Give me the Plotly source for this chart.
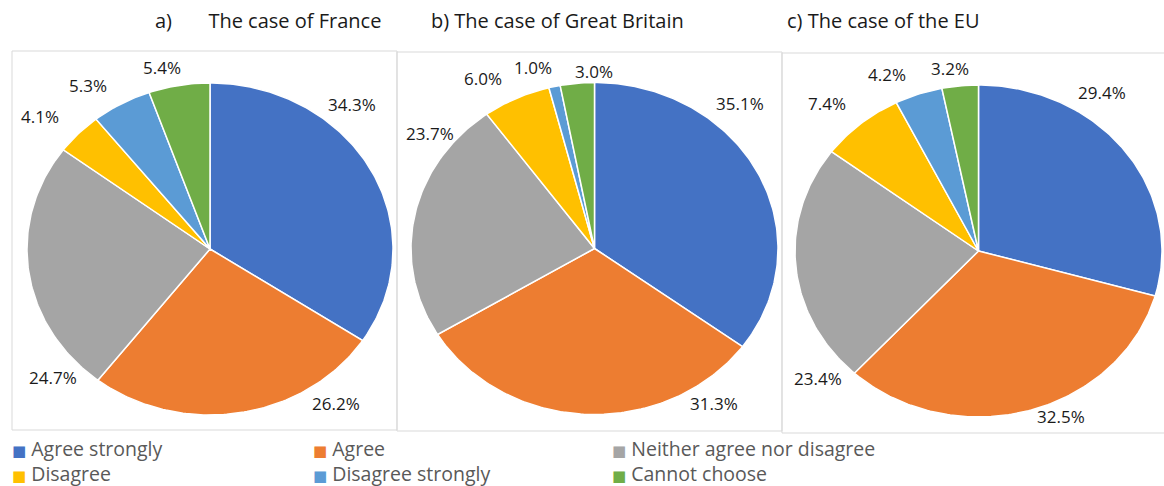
import numpy as np
import plotly.graph_objects as go

# Survey answers (percent of respondents) for each panel
categories = ["Agree strongly", "Agree", "Neither agree nor disagree",
              "Disagree", "Disagree strongly", "Cannot choose"]
france = [34.3, 26.2, 24.7, 4.1, 5.3, 5.4]
great_britain = [35.1, 31.3, 23.7, 6.0, 1.0, 3.0]
eu = [29.4, 32.5, 23.4, 7.4, 4.2, 3.2]
panel_titles = ["a)\u00a0\u00a0\u00a0\u00a0\u00a0\u00a0 The case of France",
                "b) The case of Great Britain",
                "c) The case of the EU"]

colors = ["#4472C4", "#ED7D31", "#A5A5A5", "#FFC000", "#5B9BD5", "#70AD47"]

W, H = 1164, 486
FONT = "Open Sans, Noto Sans, sans-serif"

# Panel geometry in pixels: pie centre, radii, frame, title centre, label offsets
panels = [
    dict(values=france, cx=210, cy=249, rx=183, ry=166,
         frame=(12, 51, 397, 430), title_x=268,
         label_offsets=[(142, -145), (126, 154), (-157, 128),
                        (-170, -133), (-122, -164), (-48, -182)]),
    dict(values=great_britain, cx=594.5, cy=248.5, rx=183.5, ry=166,
         frame=(397, 52, 782, 431), title_x=557,
         label_offsets=[(145.5, -145.5), (119.5, 154.5), (-164.5, -115.5),
                        (-111.5, -170.5), (-61.5, -181.5), (-0.5, -177.5)]),
    dict(values=eu, cx=978.5, cy=251, rx=183.5, ry=166,
         frame=(782, 53, 1175, 433), title_x=883,
         label_offsets=[(123.5, -159), (82.5, 165), (-160.5, 127),
                        (-151.5, -148), (-91.5, -177), (-28.5, -183)]),
]

# Legend grid: three columns, two rows
legend_cols = [10, 311, 610]
legend_rows = [448, 473]

fig = go.Figure()
shapes = []
annotations = []

for p, title in zip(panels, panel_titles):
    vals = np.array(p["values"], dtype=float)
    frac = vals / vals.sum()
    ends = np.cumsum(frac)
    starts = ends - frac
    for i, (a0, a1) in enumerate(zip(starts, ends)):
        # angles run clockwise from 12 o'clock
        t = np.linspace(a0, a1, max(8, int(400 * (a1 - a0)))) * 2 * np.pi
        xs = np.concatenate([[p["cx"]], p["cx"] + p["rx"] * np.sin(t), [p["cx"]]])
        ys = np.concatenate([[p["cy"]], p["cy"] - p["ry"] * np.cos(t), [p["cy"]]])
        fig.add_trace(go.Scatter(
            x=xs, y=ys, mode="lines", fill="toself",
            fillcolor=colors[i], line=dict(color="white", width=1.5),
            name=categories[i], showlegend=False, hoverinfo="skip"))
        dx, dy = p["label_offsets"][i]
        annotations.append(dict(
            x=p["cx"] + dx, y=p["cy"] + dy, xref="x", yref="y",
            text=f"{vals[i]:.1f}%", showarrow=False,
            font=dict(family=FONT, size=17, color="#1a1a1a"),
            xanchor="center", yanchor="middle"))
    x0, y0, x1, y1 = p["frame"]
    shapes.append(dict(type="rect", xref="x", yref="y", x0=x0, y0=y0, x1=x1, y1=y1,
                       line=dict(color="#d9d9d9", width=1), layer="below"))
    annotations.append(dict(
        x=p["title_x"], y=20, xref="x", yref="y", text=title, showarrow=False,
        font=dict(family=FONT, size=20, color="#1a1a1a"),
        xanchor="center", yanchor="middle"))

# Legend entries: coloured key square followed by the category name
for k, (name, c) in enumerate(zip(categories, colors)):
    annotations.append(dict(
        x=legend_cols[k % 3], y=legend_rows[k // 3], xref="x", yref="y",
        text=f'<span style="color:{c};font-family:DejaVu Sans;font-size:15px">\u25A0</span> {name}',
        showarrow=False, xanchor="left", yanchor="middle",
        font=dict(family=FONT, size=19.5, color="#595959")))

fig.update_layout(
    width=W, height=H,
    margin=dict(l=0, r=0, t=0, b=0, autoexpand=False),
    paper_bgcolor="white", plot_bgcolor="white",
    xaxis=dict(range=[0, W], visible=False, fixedrange=True),
    yaxis=dict(range=[H, 0], visible=False, fixedrange=True),
    shapes=shapes,
    annotations=annotations,
    showlegend=False,
)

fig.write_html("out.html")
